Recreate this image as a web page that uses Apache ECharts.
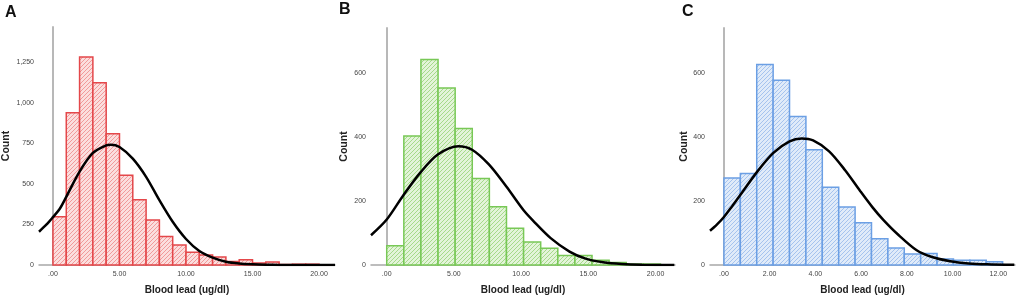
<!DOCTYPE html>
<html>
<head>
<meta charset="utf-8">
<script src="https://cdn.jsdelivr.net/npm/echarts@6/dist/echarts.min.js"></script>
<style>
  html, body { margin: 0; padding: 0; background: #fff; }
  #main { width: 1021px; height: 300px; }
</style>
</head>
<body>
<div id="main"></div>
<script>
// 直方图数据（每个 bin 的人数）
const binWidthA = 1;
const countsA = [297, 938, 1281, 1123, 809, 553, 402, 277, 176, 123, 78, 61, 49, 21, 33, 12, 18, 3, 5, 5];
const binWidthB = 1.273;
const countsB = [60, 403, 642, 553, 426, 270, 182, 115, 72, 52, 30, 30, 15, 8, 3, 3];
const binWidthC = 0.717;
const countsC = [272, 286, 626, 577, 464, 360, 243, 181, 132, 82, 53, 34, 36, 19, 15, 15, 10];

// 正态曲线（从图上读出的点）
const curveAx = [-1.05, -0.5, 0, 0.5, 1, 2, 3, 4, 4.35, 5, 6, 7, 8, 9, 10, 11, 12, 13, 14, 15, 16, 17, 18, 21.2];
const curveAy = [205, 248, 295, 345, 420, 575, 690, 737, 741, 727, 655, 543, 399, 266, 160, 86, 45, 20, 9, 4, 1.5, 0.5, 0, 0];
const curveBx = [-1.17, 0, 1.24, 2.53, 3.8, 5.33, 6.35, 7.6, 8.9, 10.2, 10.9, 12.2, 13.6, 14.8, 16.1, 17.5, 19, 21.4];
const curveBy = [93, 142, 218, 290, 345, 371, 360, 314, 245, 170, 138, 84, 42, 20, 8.5, 3, 0.8, 0];
const curveCx = [-0.61, -0.3, 0, 0.35, 0.73, 1.44, 2.16, 2.87, 3.4, 3.9, 4.6, 5.3, 5.95, 6.5, 6.97, 7.6, 8.43, 9.1, 9.89, 10.7, 11.5, 12.7];
const curveCy = [107, 127, 150, 183, 220, 290, 350, 386, 395, 389, 355, 296, 232, 180, 141, 96, 46, 25, 12, 5, 2, 0.4];

// 轴刻度
const xTicksA = [0, 5, 10, 15, 20];
const xTicksB = [0, 5, 10, 15, 20];
const xTicksC = [0, 2, 4, 6, 8, 10, 12];
const yTicksA = [0, 250, 500, 750, 1000, 1250];
const yTicksB = [0, 200, 400, 600];
const yTicksC = [0, 200, 400, 600];

// 斜线填充
function hatch(bg, line) {
  let c = document.createElement('canvas');
  c.width = 4; c.height = 4;
  let ctx = c.getContext('2d');
  ctx.fillStyle = bg;
  ctx.fillRect(0, 0, 4, 4);
  ctx.strokeStyle = line;
  ctx.lineWidth = 1;
  ctx.beginPath();
  ctx.moveTo(-1, 5); ctx.lineTo(5, -1);
  ctx.moveTo(-1, 1); ctx.lineTo(1, -1);
  ctx.moveTo(3, 5); ctx.lineTo(5, 3);
  ctx.stroke();
  return { image: c, repeat: 'repeat' };
}

function bins(counts, w) {
  return counts.map((v, i) => [i * w, (i + 1) * w, v]);
}

function zip(xs, ys) {
  return xs.map((x, i) => [x, ys[i]]);
}

function fmtX(v) {
  let s = v.toFixed(2);
  return s.startsWith('0') ? s.slice(1) : s;
}

function fmtY(v) {
  return v.toLocaleString('en-US');
}

let panels = [
  { grid: { left: 39, top: 27, width: 296, height: 239 }, min: -1.05, max: 21.2, ymax: 1466, xt: xTicksA, yt: yTicksA,
    data: bins(countsA, binWidthA), curve: zip(curveAx, curveAy), border: '#e4474a', fill: hatch('#fbdede', '#f19a9a'), nameGap: 27, letter: 'A', lx: 5, ly: 5 },
  { grid: { left: 371, top: 28, width: 304, height: 238 }, min: -1.17, max: 21.45, ymax: 740, xt: xTicksB, yt: yTicksB,
    data: bins(countsB, binWidthB), curve: zip(curveBx, curveBy), border: '#78c856', fill: hatch('#e3f4d9', '#a6da8a'), nameGap: 21, letter: 'B', lx: 339, ly: 2 },
  { grid: { left: 710, top: 28, width: 305, height: 238 }, min: -0.61, max: 12.73, ymax: 740, xt: xTicksC, yt: yTicksC,
    data: bins(countsC, binWidthC), curve: zip(curveCx, curveCy), border: '#6b9fe4', fill: hatch('#e0ebf9', '#a5c3ee'), nameGap: 20, letter: 'C', lx: 682, ly: 4 }
];

let myChart = echarts.init(document.getElementById('main'));
let option = {
  animation: false,
  textStyle: { fontFamily: 'Liberation Sans, Arial, sans-serif' },
  title: panels.map(p => ({
    text: p.letter, left: p.lx, top: p.ly, padding: 0,
    textStyle: { fontSize: 16, fontWeight: 'bold', color: '#111' }
  })),
  grid: panels.map(p => p.grid),
  xAxis: panels.map((p, i) => ({
    type: 'value', gridIndex: i, min: p.min, max: p.max,
    name: 'Blood lead (ug/dl)', nameLocation: 'middle', nameGap: 20,
    nameTextStyle: { fontSize: 10, fontWeight: 'bold', color: '#222' },
    splitLine: { show: false },
    axisLine: { lineStyle: { color: '#a8a8a8', width: 1.5 } },
    axisTick: { show: false },
    axisLabel: { customValues: p.xt, formatter: fmtX, fontSize: 7, color: '#444', margin: 6 }
  })),
  yAxis: panels.map((p, i) => ({
    type: 'value', gridIndex: i, min: 0, max: p.ymax,
    name: 'Count', nameLocation: 'middle', nameGap: p.nameGap,
    nameTextStyle: { fontSize: 10.5, fontWeight: 'bold', color: '#222' },
    splitLine: { show: false },
    axisLine: { show: true, lineStyle: { color: '#b8b8b8', width: 2 } },
    axisTick: { show: false },
    axisLabel: { customValues: p.yt, formatter: fmtY, fontSize: 7, color: '#444', margin: 5 }
  })),
  series: panels.flatMap((p, i) => [
    {
      type: 'custom', xAxisIndex: i, yAxisIndex: i,
      data: p.data,
      renderItem: function (params, api) {
        let a = api.coord([api.value(0), api.value(2)]);
        let b = api.coord([api.value(1), 0]);
        return {
          type: 'rect',
          shape: { x: a[0], y: a[1], width: b[0] - a[0], height: b[1] - a[1] },
          style: { fill: p.fill, stroke: p.border, lineWidth: 1.5 }
        };
      },
      z: 1
    },
    {
      type: 'line', xAxisIndex: i, yAxisIndex: i,
      data: p.curve,
      smooth: 0.3,
      showSymbol: false,
      lineStyle: { color: '#000', width: 2.5 },
      z: 3
    }
  ])
};
myChart.setOption(option);
</script>
</body>
</html>
